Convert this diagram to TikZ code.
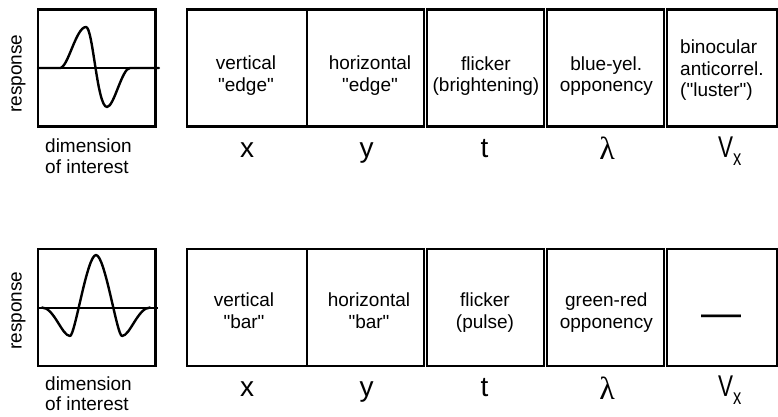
\documentclass[tikz,border=0pt]{standalone}
\usepackage{fontspec}
\usepackage{graphicx}
\setmainfont{Liberation Sans}[Ligatures=TeXOff]
\newfontfamily\greekserif{Liberation Serif}
\newcommand\mycstack[1]{\begin{tabular}[t]{@{}c@{}}#1\end{tabular}}
\newcommand\mylstack[1]{\begin{tabular}[t]{@{}l@{}}#1\end{tabular}}
\begin{document}
\begin{tikzpicture}[x=1pt,y=-1pt,
  frame/.style={draw=black, line width=2.4pt, inner sep=0pt, outer sep=0pt, anchor=north west},
  boxtext/.style={font=\fontsize{19}{21.7}\selectfont, inner sep=0pt, anchor=base},
  sidetext/.style={font=\fontsize{19}{20.5}\selectfont, inner sep=0pt},
  dimlabel/.style={font=\fontsize{28}{28}\selectfont, inner sep=0pt, anchor=base},
  curve/.style={line width=2.4pt, line join=round, line cap=round},
  axisline/.style={line width=1.6pt}]
\useasboundingbox (0,0) rectangle (778,416);

% ---------- top row ----------
\node[frame, minimum width=117.3pt, minimum height=117pt] (g1) at (38,9.3) {};
\node[frame, minimum width=120pt, minimum height=117pt] (t1) at (187,9.3) {};
\node[frame, minimum width=117pt, minimum height=117pt] (t2) at (307,9.3) {};
\node[frame, minimum width=117pt, minimum height=117pt] (t3) at (427,9.3) {};
\node[frame, minimum width=117pt, minimum height=117pt] (t4) at (547,9.3) {};
\node[frame, minimum width=109.7pt, minimum height=117pt] (t5) at (667,9.3) {};

\draw[axisline] (38,68) -- (159,68);
\draw[curve] (38,68) -- (60,68)
  .. controls (68,68) and (76,27) .. (86,27)
  .. controls (93,27) and (97,107) .. (107,107)
  .. controls (114,107) and (122,68) .. (130,68) -- (159,68);

\node[sidetext, rotate=90, anchor=base] (resp1) at (21.5,73.5) {response};
\node[sidetext, anchor=base west] (dim1) at (45,152.5) {\mylstack{dimension\\of interest}};

\node[boxtext] (tt1) at (246,69.3) {\mycstack{vertical\\"edge"}};
\node[boxtext] (tt2) at (370,69.3) {\mycstack{horizontal\\"edge"}};
\node[boxtext] (tt3) at (486,70) {\mycstack{flicker\\(brightening)}};
\node[boxtext] (tt4) at (606.3,70) {\mycstack{blue-yel.\\opponency}};
\node[boxtext, anchor=base west] (tt5) at (680,53.3) {\mylstack{binocular\\anticorrel.\\("luster")}};

\node[dimlabel] (tl1) at (247,157) {x};
\node[dimlabel] (tl2) at (366.5,157) {y};
\node[dimlabel] (tl3) at (484.5,157) {t};
\node[dimlabel, font=\fontsize{32}{32}\greekserif] (tl4) at (607,159) {λ};
\node[inner sep=0pt, anchor=base west] (tl5) at (718,157)
  {{\fontsize{30}{30}\selectfont\scalebox{0.75}[1]{V}}\raisebox{-8pt}{\fontsize{22}{22}\selectfont\scalebox{0.75}[1]{x}}};

% ---------- bottom row ----------
\node[frame, minimum width=117.3pt, minimum height=116.8pt] (g2) at (38,249.2) {};
\node[frame, minimum width=120pt, minimum height=116.8pt] (u1) at (187,249.2) {};
\node[frame, minimum width=117pt, minimum height=116.8pt] (u2) at (307,249.2) {};
\node[frame, minimum width=117pt, minimum height=116.8pt] (u3) at (427,249.2) {};
\node[frame, minimum width=117pt, minimum height=116.8pt] (u4) at (547,249.2) {};
\node[frame, minimum width=109.7pt, minimum height=116.8pt] (u5) at (667,249.2) {};

\draw[axisline] (38,308) -- (158,308);
\draw[curve] (42,307.5) .. controls (54,307.5) and (62,336) .. (70,336)
  .. controls (75,336) and (87,255) .. (96,255)
  .. controls (105,255) and (117,336) .. (122,336)
  .. controls (130,336) and (138,307.5) .. (150,307.5);

\node[sidetext, rotate=90, anchor=base] (resp2) at (21.5,310.5) {response};
\node[sidetext, anchor=base west] (dim2) at (45,390) {\mylstack{dimension\\of interest}};

\node[boxtext] (ut1) at (244,306.7) {\mycstack{vertical\\"bar"}};
\node[boxtext] (ut2) at (369,306.7) {\mycstack{horizontal\\"bar"}};
\node[boxtext] (ut3) at (485,306.7) {\mycstack{flicker\\(pulse)}};
\node[boxtext] (ut4) at (606.3,306.7) {\mycstack{green-red\\opponency}};
\node[inner sep=0pt, anchor=base, font=\fontsize{40}{40}\selectfont] (ut5) at (721,326) {—};

\node[dimlabel] (ul1) at (247,396.7) {x};
\node[dimlabel] (ul2) at (366.5,396.7) {y};
\node[dimlabel] (ul3) at (484.5,396.7) {t};
\node[dimlabel, font=\fontsize{32}{32}\greekserif] (ul4) at (607,399) {λ};
\node[inner sep=0pt, anchor=base west] (ul5) at (718,396.7)
  {{\fontsize{30}{30}\selectfont\scalebox{0.75}[1]{V}}\raisebox{-8pt}{\fontsize{22}{22}\selectfont\scalebox{0.75}[1]{x}}};
\end{tikzpicture}
\end{document}
